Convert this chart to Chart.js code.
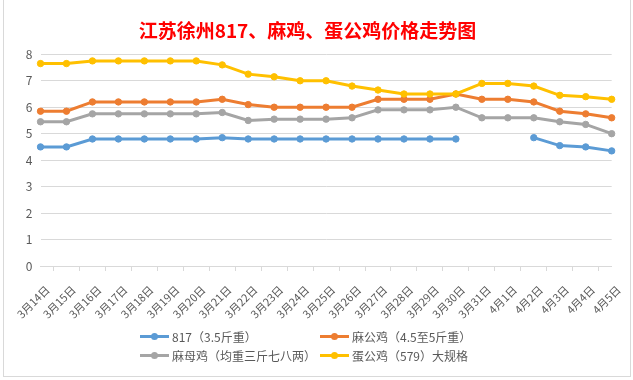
<!DOCTYPE html>
<html><head><meta charset="utf-8">
<script src="https://cdn.jsdelivr.net/npm/chart.js@4"></script>
<style>
html,body{margin:0;padding:0;background:#fff;}
#wrap{position:relative;width:633px;height:380px;overflow:hidden;background:#fff;}
#frame{position:absolute;left:3px;top:-1px;width:628px;height:378px;border:1px solid #D9D9D9;box-sizing:border-box;}
canvas{position:absolute;left:0;top:0;}
#legend{position:absolute;left:140px;top:327px;font-family:"Noto Sans CJK SC","Noto Sans",sans-serif;font-size:12px;color:#595959;display:grid;grid-template-columns:180px auto;}
.item{display:flex;align-items:center;height:19px;white-space:nowrap;}
.mk{position:relative;display:inline-block;width:29px;height:19px;margin-right:3px;}
.mk .ln{position:absolute;left:0;top:8px;width:29px;height:3px;}
.mk .dt{position:absolute;left:11px;top:6px;width:7px;height:7px;border-radius:50%;}
</style>
</head><body>
<div id="wrap">
<div id="frame"></div>
<canvas id="c" width="633" height="380"></canvas>
<div id="legend"></div>
</div>
<script>
const titleText = '江苏徐州817、麻鸡、蛋公鸡价格走势图';
const categories = ['3月14日','3月15日','3月16日','3月17日','3月18日','3月19日','3月20日','3月21日','3月22日','3月23日','3月24日','3月25日','3月26日','3月27日','3月28日','3月29日','3月30日','3月31日','4月1日','4月2日','4月3日','4月4日','4月5日'];
const seriesNames = ['817（3.5斤重）','麻公鸡（4.5至5斤重）','麻母鸡（均重三斤七八两）','蛋公鸡（579）大规格'];
const s817 = [4.5,4.5,4.8,4.8,4.8,4.8,4.8,4.85,4.8,4.8,4.8,4.8,4.8,4.8,4.8,4.8,4.8,null,null,4.85,4.55,4.5,4.35];
const sMaGong = [5.85,5.85,6.2,6.2,6.2,6.2,6.2,6.3,6.1,6.0,6.0,6.0,6.0,6.3,6.3,6.3,6.5,6.3,6.3,6.2,5.85,5.75,5.6];
const sMaMu = [5.45,5.45,5.75,5.75,5.75,5.75,5.75,5.8,5.5,5.55,5.55,5.55,5.6,5.9,5.9,5.9,6.0,5.6,5.6,5.6,5.45,5.35,5.0];
const sDanGong = [7.65,7.65,7.75,7.75,7.75,7.75,7.75,7.6,7.25,7.15,7.0,7.0,6.8,6.65,6.5,6.5,6.5,6.9,6.9,6.8,6.45,6.4,6.3];
const colors = ['#5B9BD5','#ED7D31','#A5A5A5','#FFC000'];
const yTicks = {min:0, max:8, step:1};

const FONT = '"Noto Sans CJK SC","Noto Sans",sans-serif';
const allSeries = [s817, sMaGong, sMaMu, sDanGong];
const datasets = allSeries.map((d,i)=>({
  label: seriesNames[i],
  data: d,
  borderColor: colors[i],
  backgroundColor: colors[i],
  pointBackgroundColor: colors[i],
  pointBorderColor: colors[i],
  borderWidth: 3,
  pointRadius: 3.2,
  pointBorderWidth: 1,
  tension: 0,
  spanGaps: false,
  order: 3 - i
}));

const chart = new Chart(document.getElementById('c'), {
  type: 'line',
  data: { labels: categories, datasets },
  options: {
    responsive: false,
    animation: false,
    devicePixelRatio: 1,
    layout: { padding: { left: 0, right: 18, top: 0, bottom: 0 } },
    plugins: {
      legend: { display: false },
      tooltip: { enabled: false },
      title: {
        display: true,
        text: titleText,
        color: '#FF0000',
        font: { family: FONT, size: 19, weight: 'bold' },
        padding: { top: 19, bottom: 12.5 }
      }
    },
    scales: {
      x: {
        afterFit: s => { s.height = 114; },
        grid: { display: true, drawOnChartArea: false, drawTicks: true, tickLength: 5, offset: true, color: '#D9D9D9' },
        border: { display: true, color: '#D9D9D9' },
        ticks: { autoSkip: false, maxRotation: 45, minRotation: 45, color: '#595959', font: { family: FONT, size: 11 }, padding: 12, labelOffset: 7 }
      },
      y: {
        min: yTicks.min, max: yTicks.max,
        afterFit: s => { s.width = 40; },
        grid: { color: '#D9D9D9', drawTicks: false },
        border: { display: false },
        ticks: { stepSize: yTicks.step, color: '#595959', font: { family: FONT, size: 12 }, padding: 8 }
      }
    }
  }
});

const lg = document.getElementById('legend');
chart.data.datasets.forEach(ds => {
  const it = document.createElement('div'); it.className = 'item';
  const mk = document.createElement('span'); mk.className = 'mk';
  const ln = document.createElement('span'); ln.className = 'ln'; ln.style.background = ds.borderColor;
  const dt = document.createElement('span'); dt.className = 'dt'; dt.style.background = ds.borderColor;
  mk.appendChild(ln); mk.appendChild(dt);
  const tx = document.createElement('span'); tx.textContent = ds.label;
  it.appendChild(mk); it.appendChild(tx);
  lg.appendChild(it);
});
</script>
</body></html>
